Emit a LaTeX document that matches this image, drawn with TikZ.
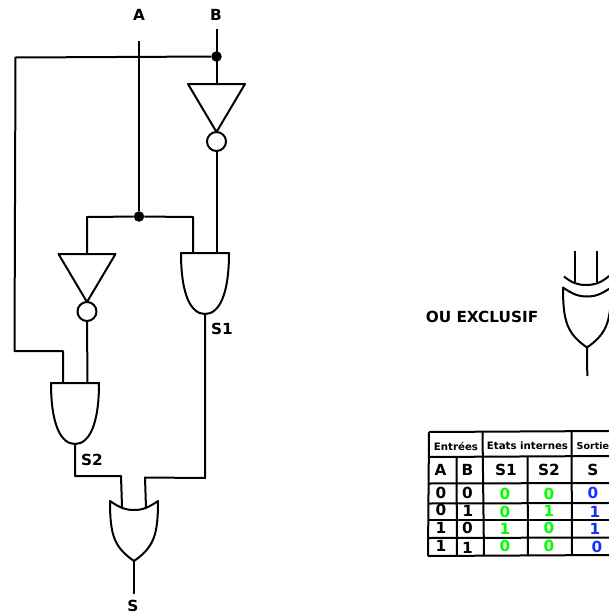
\documentclass[tikz,border=0pt]{standalone}
\usepackage{fontspec}
\setmainfont{DejaVu Sans}
\usepackage{tikz}

\definecolor{bitgreen}{RGB}{0,255,0}
\definecolor{bitblue}{RGB}{20,50,255}

\tikzset{
  wire/.style={line width=2pt, line join=round},
  lbl/.style={font=\bfseries\fontsize{15.3}{17}\selectfont, inner sep=0pt},
  small/.style={font=\bfseries\fontsize{10.2}{12}\selectfont, inner sep=0pt},
  bitg/.style={lbl, text=bitgreen},
  bitb/.style={lbl, text=bitblue},
  dot/.style={circle, fill=black, inner sep=0pt, minimum size=10.5pt},
  andgate/.pic={
    \draw[wire] (-24,0) -- (24,0) .. controls (24,42) and (14,61) .. (0,61)
      .. controls (-14,61) and (-24,42) .. (-24,0) -- cycle;
    \coordinate (-out) at (0,61);
  },
  orgate/.pic={
    \draw[wire] (-24,-9) .. controls (-14,-2) and (-8,0) .. (0,0)
      .. controls (8,0) and (14,-2) .. (24,-9)
      .. controls (24,25) and (20,37) .. (0,51)
      .. controls (-20,37) and (-24,25) .. (-24,-9) -- cycle;
    \coordinate (-out) at (0,51);
  },
  notgate/.pic={
    \draw[wire] (-28.5,0) -- (28.5,0) -- (0,48) -- cycle;
    \draw[wire] (0,57.5) circle (9.5);
    \coordinate (-out) at (0,67);
  }
}

\begin{document}
\begin{tikzpicture}[x=1pt, y=-1pt]
\useasboundingbox (0,0) rectangle (609,616);

% circuit
\node[lbl] (labelA) at (139,15) {A};
\node[lbl] (labelB) at (216,15) {B};
\coordinate (startA) at (139,41);
\coordinate (startB) at (216.5,29);
\node[dot] (dotB) at (216.5,56.5) {};
\node[dot] (dotA) at (139,216.5) {};
\coordinate (cornerTop) at (15.5,57.5);
\coordinate (cornerLeft) at (14.5,351);
\coordinate (cornerAnd) at (63,351);

\pic (notB) at (216.5,84) {notgate};
\pic (notA) at (87,254) {notgate};
\pic (andOne) at (205,253) {andgate};
\pic (andTwo) at (75,383) {andgate};
\pic (orS) at (134,510) {orgate};

\draw[wire] (startA) -- (dotA);
\draw[wire] (startB) -- (216.5,84);
\draw[wire] (dotB) -- (cornerTop) -- (cornerLeft) -- (cornerAnd) -- (63,383);
\draw[wire] (notB-out) -- (216.5,253);
\draw[wire] (dotA) -- (87,217) -- (87,254);
\draw[wire] (dotA) -- (193,217) -- (193,253);
\draw[wire] (notA-out) -- (87.5,383);
\draw[wire] (andOne-out) -- (205,478) -- (145,477.5) -- (146,508);
\draw[wire] (andTwo-out) -- (75,476) -- (121,476) -- (122,507);
\coordinate (endS) at (134,594);
\draw[wire] (orS-out) -- (endS);

\node[lbl] (labelS1) at (222,329) {S1};
\node[lbl] (labelS2) at (92,460) {S2};
\node[lbl] (labelS) at (133,606) {S};

% porte ou exclusif
\node[lbl] (labelXor) at (482,317) {OU EXCLUSIF};
\pic (xorGate) at (587,296.5) {orgate};
\draw[wire] (564,276.5) .. controls (572,283) and (578,285) .. (586,285)
  .. controls (594,285) and (601,283) .. (609,276);
\draw[wire] (575,251) -- (575,282);
\draw[wire] (597,251) -- (597,282);
\coordinate (endXor) at (587.3,376);
\draw[wire] (xorGate-out) -- (endXor);

% tableau
\draw[wire] (429,432) -- (609,431);
\draw[wire] (428,457) -- (609,456);
\draw[wire] (429,483.5) -- (609,483);
\draw[wire] (429,503.5) -- (609,503);
\draw[wire] (429,520) -- (609,520);
\draw[wire] (428.5,538) -- (609,537.5);
\draw[wire] (428,556) -- (609,555);
\draw[wire] (429,432) -- (428,556);
\draw[wire] (456.5,457) -- (457,556);
\draw[wire] (482.5,432) -- (484,556);
\draw[wire] (527.5,457) -- (528,556);
\draw[wire] (571.5,431) -- (572,555);

\node[small] (headIn) at (456,446) {Entrées};
\node[small] (headInt) at (527.5,446) {Etats internes};
\node[small, anchor=west, font=\bfseries\fontsize{9.5}{12}\selectfont] (headOut) at (576.5,446) {Sortie};

\node[lbl] (headA) at (440.5,470) {A};
\node[lbl] (headB) at (467.5,470) {B};
\node[lbl] (headSa) at (506,470) {S1};
\node[lbl] (headSb) at (549,470) {S2};
\node[lbl] (headS) at (593,470) {S};

\node[lbl] (a1) at (441,493) {0};
\node[lbl] (b1) at (467.5,493) {0};
\node[bitg] (p1) at (505,494) {0};
\node[bitg] (q1) at (549,493.5) {0};
\node[bitb] (s1) at (593,492.5) {0};

\node[lbl] (a2) at (441,510) {0};
\node[lbl] (b2) at (468,511) {1};
\node[bitg] (p2) at (505,512) {0};
\node[bitg] (q2) at (549,510.5) {1};
\node[bitb] (s2) at (595,512) {1};

\node[lbl] (a3) at (441,528) {1};
\node[lbl] (b3) at (467.5,527.5) {0};
\node[bitg] (p3) at (505,529) {1};
\node[bitg] (q3) at (549,528) {0};
\node[bitb] (s3) at (595,529) {1};

\node[lbl] (a4) at (441,546) {1};
\node[lbl] (b4) at (467.5,548) {1};
\node[bitg] (p4) at (505,546) {0};
\node[bitg] (q4) at (549,546) {0};
\node[bitb] (s4) at (597,547) {0};
\end{tikzpicture}
\end{document}
